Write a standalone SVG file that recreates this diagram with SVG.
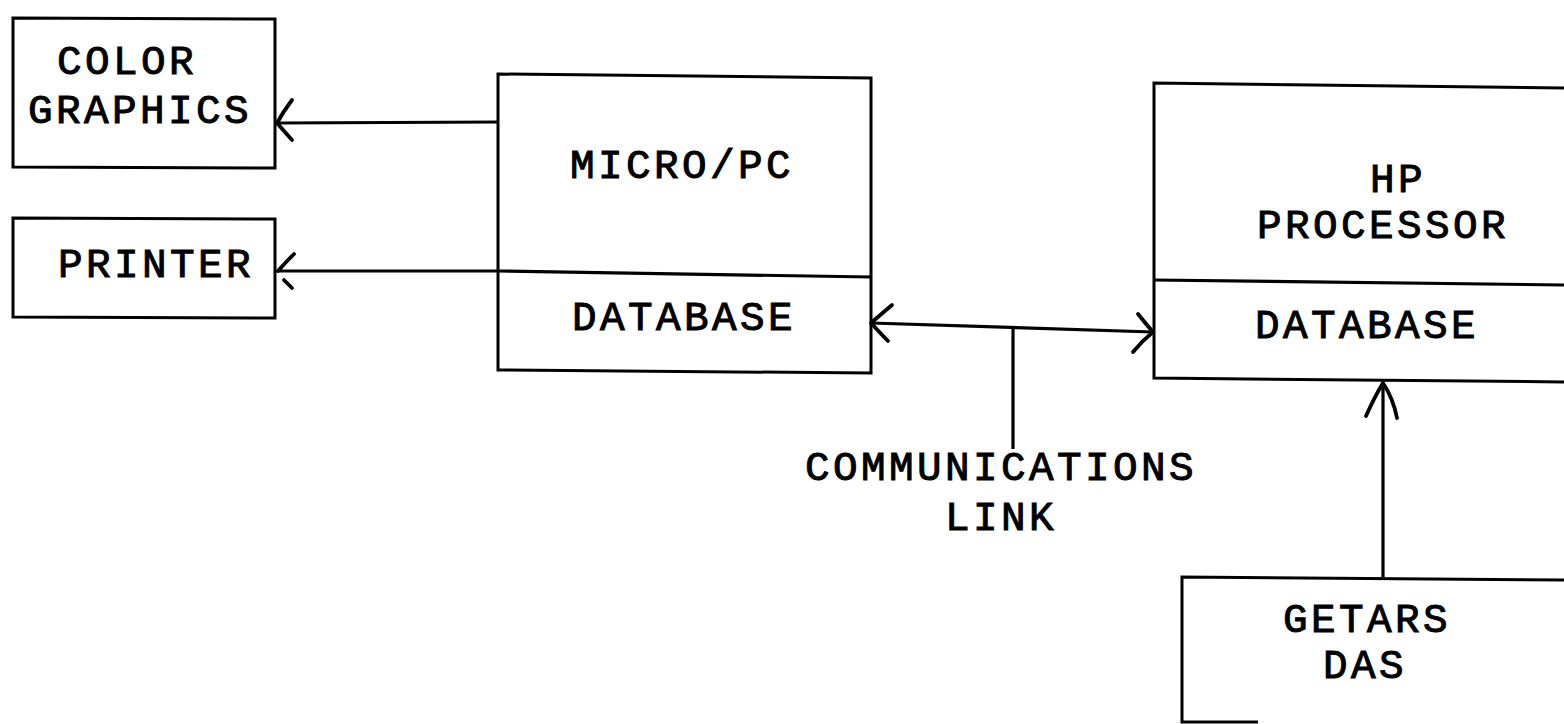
<svg xmlns="http://www.w3.org/2000/svg" width="1564" height="724" viewBox="0 0 1564 724">
  <style>
    .box { fill: none; stroke: #000; stroke-width: 3; stroke-linejoin: miter; }
    .ln { fill: none; stroke: #000; stroke-width: 3.2; }
    .head { fill: none; stroke: #000; stroke-width: 3.8; stroke-linecap: round; stroke-linejoin: round; }
    .lbl { font-family: "Liberation Mono", "Courier New", monospace; font-size: 41px; letter-spacing: 3.4px; fill: #000; stroke: #000; stroke-width: 1; }
  </style>
  <rect width="1564" height="724" fill="#fff"/>

  <g id="color-graphics">
    <path class="box" d="M13 18 L275 19 L275 168 L13 167 Z"/>
    <text class="lbl" x="57" y="74">COLOR</text>
    <text class="lbl" x="28" y="123">GRAPHICS</text>
  </g>

  <g id="printer">
    <path class="box" d="M13 218 L275 219 L275 318 L13 317 Z"/>
    <text class="lbl" x="58" y="277">PRINTER</text>
  </g>

  <g id="micro-pc">
    <path class="box" d="M498 74 L871 78 L871 373 L498 370 Z"/>
    <path class="ln" d="M498 271 L871 277"/>
    <text class="lbl" x="570" y="178">MICRO/PC</text>
    <text class="lbl" x="572" y="330">DATABASE</text>
  </g>

  <g id="hp-processor">
    <path class="box" d="M1566 88 L1154 83 L1154 378 L1566 382"/>
    <path class="ln" d="M1154 280 L1566 285"/>
    <text class="lbl" x="1370" y="192">HP</text>
    <text class="lbl" x="1257" y="238">PROCESSOR</text>
    <text class="lbl" x="1255" y="338">DATABASE</text>
  </g>

  <g id="getars-das">
    <path class="box" d="M1566 580 L1182 577 L1182 722 L1258 722"/>
    <text class="lbl" x="1283" y="632">GETARS</text>
    <text class="lbl" x="1323" y="678">DAS</text>
  </g>

  <g id="link-label">
    <text class="lbl" x="805" y="480">COMMUNICATIONS</text>
    <text class="lbl" x="945" y="530">LINK</text>
  </g>

  <g id="connectors">
    <!-- micro/pc to color graphics -->
    <path class="ln" d="M498 122 L277 123"/>
    <path class="head" d="M292 100 Q283 112 277 123 Q284 131 292 140"/>
    <!-- micro/pc to printer -->
    <path class="ln" d="M498 271 L278 271"/>
    <path class="head" d="M294 254 Q285 263 278 271"/>
    <path class="head" d="M284 280 L292 288"/>
    <!-- communications link, both ways -->
    <path class="ln" d="M871 323 L1153 332"/>
    <path class="head" d="M892 305 Q879 316 871 323 Q880 333 888 341"/>
    <path class="head" d="M1138 314 Q1146 324 1153 332 Q1142 341 1133 352"/>
    <path class="ln" d="M1013 328 L1013 449"/>
    <!-- getars das to hp database -->
    <path class="ln" d="M1383 577 L1383 383"/>
    <path class="head" d="M1366 416 Q1375 396 1383 383 Q1393 398 1397 418"/>
  </g>
</svg>
